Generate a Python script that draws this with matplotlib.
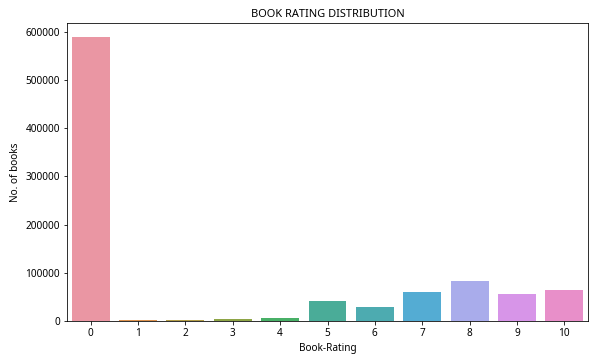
import matplotlib

matplotlib.use("agg")

import matplotlib.pyplot as plt
import seaborn as sns

# counts
ratings = [0, 1, 2, 3, 4, 5, 6, 7, 8, 9, 10]
counts = [589000, 1500, 2500, 4200, 6300, 42300, 28300, 61000, 83900, 56200, 65100]

plt.rcParams['font.family'] = ['Noto Sans', 'DejaVu Sans']

fig = plt.figure(figsize=(589 / 72, 360 / 72), dpi=72)
ax = fig.add_axes((67 / 589, 39 / 360, 521 / 589, 298 / 360))

colors = sns.color_palette(sns.husl_palette(len(ratings), l=.7), desat=.75)
ax.bar([str(r) for r in ratings], counts, width=0.8, color=colors)
ax.set_xlim(-0.5, len(ratings) - 0.5)
ax.set_ylim(0, 618000)
ax.set_yticks([0, 100000, 200000, 300000, 400000, 500000, 600000])

ax.set_title("BOOK RATING DISTRIBUTION", fontsize=11)
ax.set_xlabel("Book-Rating", fontsize=10)
ax.set_ylabel("No. of books", fontsize=10)
ax.tick_params(labelsize=10)

fig.savefig("out.png", dpi=72)
